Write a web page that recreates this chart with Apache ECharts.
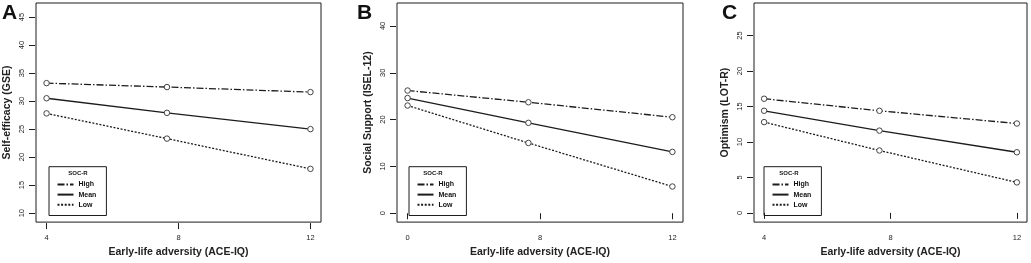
<!DOCTYPE html>
<html>
<head>
<meta charset="utf-8">
<script src="https://cdn.jsdelivr.net/npm/echarts@6/dist/echarts.min.js"></script>
<style>
  html, body { margin: 0; padding: 0; background: #ffffff; }
  #chart { width: 1031px; height: 263px; }
</style>
</head>
<body>
<div id="chart"></div>
<script>
// x positions of the three points (ACE-IQ low / mean / high)
const X_POINTS = [4, 7.65, 12];
const X_TICKS = [4, 8, 12];
const X_TICK_LABELS_A = ["4", "8", "12"];
const X_TICK_LABELS_B = ["0", "8", "12"];
const X_TICK_LABELS_C = ["4", "8", "12"];

const GROUPS = ["High", "Mean", "Low"];

// Panel A: Self-efficacy (GSE)
const A_HIGH = [33.2, 32.5, 31.6];
const A_MEAN = [30.5, 27.9, 25.0];
const A_LOW = [27.8, 23.3, 17.9];
const A_Y_TICKS = [10, 15, 20, 25, 30, 35, 40, 45];

// Panel B: Social Support (ISEL-12)
const B_HIGH = [26.2, 23.7, 20.5];
const B_MEAN = [24.6, 19.3, 13.1];
const B_LOW = [23.0, 15.0, 5.7];
const B_Y_TICKS = [0, 10, 20, 30, 40];

// Panel C: Optimism (LOT-R)
const C_HIGH = [16.1, 14.4, 12.6];
const C_MEAN = [14.4, 11.6, 8.55];
const C_LOW = [12.8, 8.8, 4.3];
const C_Y_TICKS = [0, 5, 10, 15, 20, 25];

const FONT = "'Liberation Sans', Arial, Helvetica, sans-serif";
const INK = "#1c1c1c";

const LINE_TYPES = {
  High: [7, 2, 1.5, 2],
  Mean: "solid",
  Low: [2, 1.6],
};

const panels = [
  {
    letter: "A", yName: "Self-efficacy (GSE)", yMin: 8.4, yMax: 47.5, yTicks: A_Y_TICKS,
    xLabels: X_TICK_LABELS_A, values: { High: A_HIGH, Mean: A_MEAN, Low: A_LOW },
    grid: { left: 36, top: 3, width: 285, height: 222 },
    letterX: 2, legendLeft: 49, legendTitleX: 78,
  },
  {
    letter: "B", yName: "Social Support (ISEL-12)", yMin: -1.9, yMax: 44.9, yTicks: B_Y_TICKS,
    xLabels: X_TICK_LABELS_B, values: { High: B_HIGH, Mean: B_MEAN, Low: B_LOW },
    grid: { left: 397, top: 3, width: 286, height: 222 },
    letterX: 357, legendLeft: 409, legendTitleX: 433,
  },
  {
    letter: "C", yName: "Optimism (LOT-R)", yMin: -1.3, yMax: 29.6, yTicks: C_Y_TICKS,
    xLabels: X_TICK_LABELS_C, values: { High: C_HIGH, Mean: C_MEAN, Low: C_LOW },
    grid: { left: 754, top: 3, width: 273, height: 222 },
    letterX: 722, legendLeft: 764, legendTitleX: 789,
  },
];

const chart = echarts.init(document.getElementById("chart"), null, { renderer: "canvas" });

const option = {
  backgroundColor: "#ffffff",
  animation: false,
  textStyle: { fontFamily: FONT },
  grid: panels.map((p) => ({
    ...p.grid,
    show: true,
    borderColor: INK,
    borderWidth: 1,
    backgroundColor: "transparent",
    containLabel: false,
  })),
  xAxis: panels.map((p, i) => ({
    type: "value",
    gridIndex: i,
    min: 3.68,
    max: 12.32,
    offset: 1,
    name: "Early-life adversity (ACE-IQ)",
    nameLocation: "middle",
    nameGap: 22,
    nameTextStyle: { fontSize: 10.5, fontWeight: "bold", color: "#222", fontFamily: FONT },
    axisLine: { show: false },
    splitLine: { show: false },
    axisTick: { show: true, length: 6, customValues: X_TICKS, lineStyle: { color: INK, width: 1 } },
    axisLabel: {
      customValues: X_TICKS,
      margin: 11,
      fontSize: 7.5,
      color: "#1a1a1a",
      fontFamily: FONT,
      formatter: (v) => p.xLabels[X_TICKS.indexOf(v)] ?? "",
    },
  })),
  yAxis: panels.map((p, i) => ({
    type: "value",
    gridIndex: i,
    min: p.yMin,
    max: p.yMax,
    offset: 1,
    name: p.yName,
    nameLocation: "middle",
    nameGap: 22,
    nameTextStyle: { fontSize: 10.5, fontWeight: "bold", color: "#222", fontFamily: FONT },
    axisLine: { show: false },
    splitLine: { show: false },
    axisTick: { show: true, length: 6, customValues: p.yTicks, lineStyle: { color: INK, width: 1 } },
    axisLabel: {
      customValues: p.yTicks,
      rotate: 90,
      margin: 9,
      fontSize: 7.5,
      color: "#1a1a1a",
      fontFamily: FONT,
    },
  })),
  legend: panels.map((p) => ({
    data: GROUPS,
    orient: "vertical",
    left: p.legendLeft,
    top: 166.7,
    padding: [13.6, 10, 6.6, 7.5],
    itemWidth: 16,
    itemHeight: 8,
    itemGap: 1.7,
    borderColor: INK,
    borderWidth: 1,
    selectedMode: false,
    itemStyle: { opacity: 0 },
    textStyle: { fontSize: 7, fontWeight: "bold", color: "#111", lineHeight: 8, fontFamily: FONT },
  })),
  graphic: panels.flatMap((p) => [
    {
      type: "text",
      left: p.letterX,
      top: 3,
      style: { text: p.letter, font: `bold 21px ${FONT}`, fill: "#111" },
    },
    {
      type: "text",
      x: p.legendTitleX,
      y: 173.5,
      style: {
        text: "SOC-R",
        font: `bold 6px ${FONT}`,
        fill: "#111",
        align: "center",
        verticalAlign: "middle",
      },
    },
  ]),
  series: panels.flatMap((p, i) =>
    GROUPS.map((g) => ({
      name: g,
      type: "line",
      xAxisIndex: i,
      yAxisIndex: i,
      data: X_POINTS.map((x, k) => [x, p.values[g][k]]),
      symbol: "circle",
      symbolSize: 5.5,
      showSymbol: true,
      lineStyle: { color: INK, width: 1.3, type: LINE_TYPES[g] },
      itemStyle: { color: "#ffffff", borderColor: "#444", borderWidth: 1 },
      emphasis: { disabled: true },
      silent: true,
    }))
  ),
};

chart.setOption(option);
</script>
</body>
</html>
